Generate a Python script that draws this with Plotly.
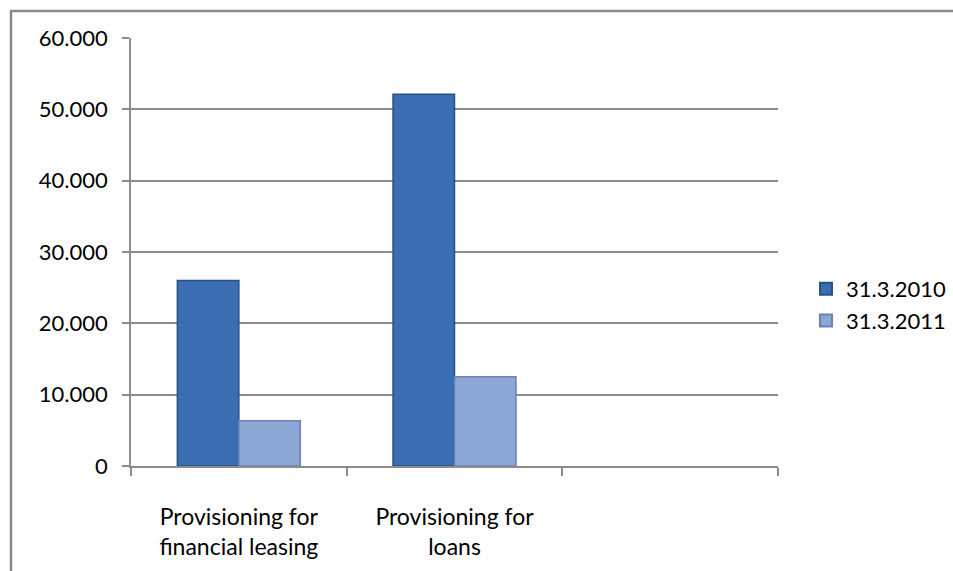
import plotly.graph_objects as go

# Provisioning balances by category, two reporting dates
categories = ["Provisioning for<br>financial leasing", "Provisioning for<br>loans", " "]
series_names = ["31.3.2010", "31.3.2011"]
values_2010 = [26000, 52100, None]
values_2011 = [6350, 12520, None]

colors = ["#3A6DB2", "#8CA6D5"]
edge_colors = ["#28508A", "#6A82AE"]

W, H = 953, 571
L, R, T, B = 131, 175, 38, 105
pw, ph = W - L - R, H - T - B

fig = go.Figure()
for name, vals, c, ec in zip(series_names, [values_2010, values_2011], colors, edge_colors):
    fig.add_trace(go.Bar(
        x=categories, y=vals, name=name,
        marker=dict(color=c, line=dict(color=ec, width=1.5)),
    ))

font_family = "Lato, Carlito, Calibri, sans-serif"
grid_col = "#8C8C8C"


def px_to_paper_x(px):
    return (px - L) / pw


def px_to_paper_y(py):
    return (H - B - py) / ph


# outer chart-area frame (runs past the right and bottom edges)
fig.add_shape(type="rect", xref="paper", yref="paper",
              x0=px_to_paper_x(11), x1=px_to_paper_x(990),
              y0=px_to_paper_y(610), y1=px_to_paper_y(11),
              line=dict(color="#8A8A8A", width=2.5), fillcolor="rgba(0,0,0,0)",
              layer="below")

fig.update_layout(
    width=W, height=H,
    margin=dict(l=L, r=R, t=T, b=B, pad=0, autoexpand=False),
    paper_bgcolor="white", plot_bgcolor="white",
    barmode="group", bargap=0.43, bargroupgap=0,
    separators=",.",
    font=dict(family=font_family, size=22, color="#000000"),
    showlegend=True,
    legend=dict(x=px_to_paper_x(806), y=px_to_paper_y(268), xanchor="left", yanchor="top",
                font=dict(size=22), itemsizing="constant", tracegroupgap=8,
                bgcolor="rgba(0,0,0,0)"),
    xaxis=dict(
        type="category", categoryorder="array", categoryarray=categories,
        range=[-0.5, 2.5], showgrid=False,
        showline=True, linecolor=grid_col, linewidth=1.5,
        ticks="outside", tickson="boundaries", ticklen=8, tickcolor=grid_col, tickwidth=1.5,
        tickfont=dict(size=23), ticklabelstandoff=30, fixedrange=True,
    ),
    yaxis=dict(
        range=[0, 60000], dtick=10000, tickformat=",.0f",
        showgrid=True, gridcolor=grid_col, gridwidth=1.5,
        showline=True, linecolor=grid_col, linewidth=1.5,
        ticks="outside", ticklen=7, tickcolor=grid_col, tickwidth=1.5,
        tickfont=dict(size=22), ticklabelstandoff=10, zeroline=False, fixedrange=True,
    ),
)

fig.write_html("out.html")
